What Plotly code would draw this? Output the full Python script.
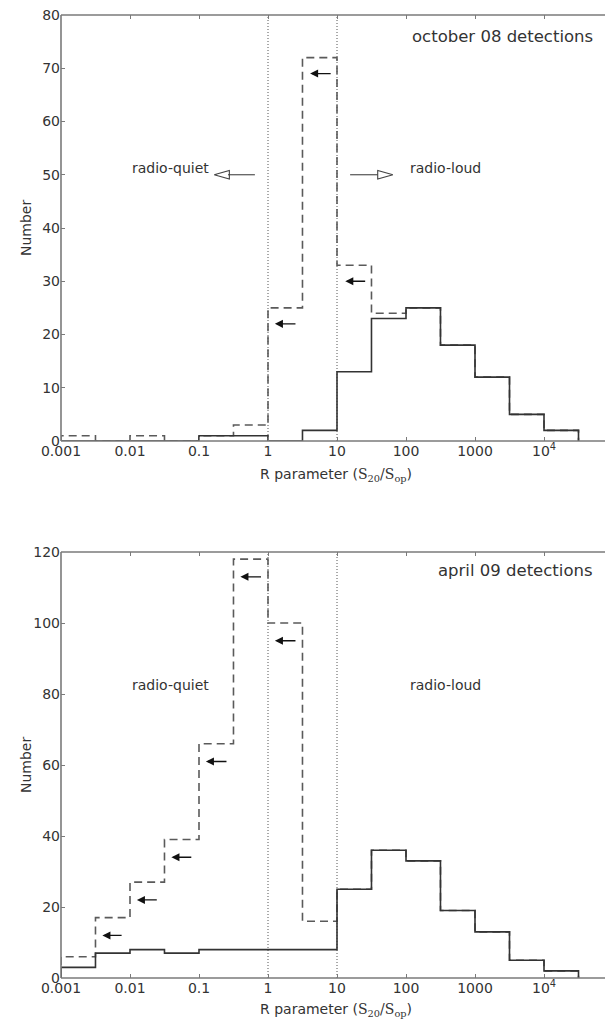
import plotly.graph_objects as go

# ---------------- data ----------------
bin_edges = [0.001, 0.00316, 0.01, 0.0316, 0.1, 0.316, 1, 3.16, 10, 31.6, 100, 316, 1000, 3162, 10000, 31623]

oct_detect = [0, 0, 0, 0, 1, 1, 0, 2, 13, 23, 25, 18, 12, 5, 2]
oct_total = [1, 0, 1, 0, 1, 3, 25, 72, 33, 24, 25, 18, 12, 5, 2]

apr_detect = [3, 7, 8, 7, 8, 8, 8, 8, 25, 36, 33, 19, 13, 5, 2]
apr_total = [6, 17, 27, 39, 66, 118, 100, 16, 25, 36, 33, 19, 13, 5, 2]

# upper-limit arrows (log10 R of head / tail, y value)
oct_arrow_head = [0.10, 0.61, 1.12]
oct_arrow_tail = [0.42, 0.93, 1.43]
oct_arrow_y = [22, 69, 30]

apr_arrow_head = [-2.40, -1.90, -1.40, -0.90, -0.40, 0.10]
apr_arrow_tail = [-2.10, -1.59, -1.09, -0.58, -0.08, 0.42]
apr_arrow_y = [12, 22, 34, 61, 113, 95]

xtick_vals = [0.001, 0.01, 0.1, 1, 10, 100, 1000, 10000]
xtick_text = ["0.001", "0.01", "0.1", "1", "10", "100", "1000", "10<sup>4</sup>"]
oct_yticks = [0, 10, 20, 30, 40, 50, 60, 70, 80]
apr_yticks = [0, 20, 40, 60, 80, 100, 120]
divider_R = [1, 10]

# --------------- helpers ---------------
def step_xy(edges, vals):
    xs = [edges[0]] + list(edges[:-1]) + [edges[-1], edges[-1]]
    ys = [0] + list(vals) + [vals[-1], 0]
    return xs, ys

FONT = "DejaVu Sans, Liberation Sans, sans-serif"
AXC = "#7a7a7a"
W = 640          # figure wider than the 605 px window: right part is cropped, as in the reference
L = 61
PW = W - L
DEC = 69.0       # pixels per decade
TOP_DOM = [(978 - 441) / 963, 1.0]
BOT_DOM = [0, (978 - 552) / 963]

fig = go.Figure()

panels = [
    ("x", "y", oct_detect, oct_total, 80, oct_arrow_head, oct_arrow_tail, oct_arrow_y),
    ("x2", "y2", apr_detect, apr_total, 120, apr_arrow_head, apr_arrow_tail, apr_arrow_y),
]

for xa, ya, det, tot, ymax, ah, at, ay in panels:
    for d in divider_R:
        fig.add_trace(go.Scatter(x=[d, d], y=[0, ymax], mode="lines", xaxis=xa, yaxis=ya,
                                 line=dict(color="#555", width=1, dash="1px,2px"),
                                 showlegend=False, hoverinfo="skip"))
    xs, ys = step_xy(bin_edges, tot)
    fig.add_trace(go.Scatter(x=xs, y=ys, mode="lines", line_shape="hv", xaxis=xa, yaxis=ya,
                             line=dict(color="#5a5a5a", width=1.6, dash="8px,5px"),
                             showlegend=False, hoverinfo="skip"))
    xs, ys = step_xy(bin_edges, det)
    fig.add_trace(go.Scatter(x=xs, y=ys, mode="lines", line_shape="hv", xaxis=xa, yaxis=ya,
                             line=dict(color="#333", width=1.6),
                             showlegend=False, hoverinfo="skip"))
    for h, t, yv in zip(ah, at, ay):
        fig.add_annotation(x=h, y=yv, ax=t, ay=yv, xref=xa, yref=ya, axref=xa, ayref=ya,
                           text="", showarrow=True, arrowhead=2, arrowsize=1.15,
                           arrowwidth=1.4, arrowcolor="#111")

# hollow arrows in top panel (radio-quiet / radio-loud)
rq_line_logx = [-0.58, -0.19]
rq_head_logx = [-0.78, -0.56, -0.56, -0.78]
rl_line_logx = [1.19, 1.59]
rl_head_logx = [1.81, 1.59, 1.59, 1.81]
head_y = [50, 50.8, 49.2, 50]
for lx in (rq_line_logx, rl_line_logx):
    fig.add_trace(go.Scatter(x=[10 ** v for v in lx], y=[50, 50], mode="lines", xaxis="x", yaxis="y",
                             line=dict(color="#444", width=1.1), showlegend=False, hoverinfo="skip"))
for hx in (rq_head_logx, rl_head_logx):
    fig.add_trace(go.Scatter(x=[10 ** v for v in hx], y=head_y, mode="lines", xaxis="x", yaxis="y",
                             line=dict(color="#444", width=1.1), showlegend=False, hoverinfo="skip"))

txt = dict(family=FONT, size=14, color="#333")
fig.add_annotation(x=-1.41, y=51.3, xref="x", yref="y", text="radio-quiet", showarrow=False, font=txt)
fig.add_annotation(x=2.575, y=51.3, xref="x", yref="y", text="radio-loud", showarrow=False, font=txt)
fig.add_annotation(x=-1.41, y=82.5, xref="x2", yref="y2", text="radio-quiet", showarrow=False, font=txt)
fig.add_annotation(x=2.575, y=82.5, xref="x2", yref="y2", text="radio-loud", showarrow=False, font=txt)

ttl = dict(family=FONT, size=16.5, color="#333")
fig.add_annotation(x=4.745, y=75.9, xref="x", yref="y", text="october 08 detections",
                   showarrow=False, xanchor="right", font=ttl)
fig.add_annotation(x=4.745, y=114.7, xref="x2", yref="y2", text="april 09 detections",
                   showarrow=False, xanchor="right", font=ttl)

xlabel = "R parameter (<span style='font-family:DejaVu Serif, Liberation Serif, serif'>S<sub>20</sub>/S<sub>op</sub></span>)"
lab = dict(family=FONT, size=14, color="#333")
for py in (475, 1010):
    fig.add_annotation(x=(336 - L) / PW, y=(978 - py) / 963, xref="paper", yref="paper", text=xlabel,
                       showarrow=False, font=lab, xanchor="center", yanchor="middle")
for py in (228, 765):
    fig.add_annotation(x=(26 - L) / PW, y=(978 - py) / 963, xref="paper", yref="paper",
                       text="Number", textangle=-90, showarrow=False, font=lab,
                       xanchor="center", yanchor="middle")

# frame: left, top, bottom spines only (right side is outside the window)
spine = dict(color=AXC, width=1.6)
for dom in (TOP_DOM, BOT_DOM):
    fig.add_shape(type="line", xref="paper", yref="paper", x0=0, x1=0, y0=dom[0], y1=dom[1], line=spine)
    fig.add_shape(type="line", xref="paper", yref="paper", x0=0, x1=1, y0=dom[0], y1=dom[0], line=spine)
    fig.add_shape(type="line", xref="paper", yref="paper", x0=0, x1=1, y0=dom[1], y1=dom[1], line=spine)

xcommon = dict(type="log", range=[-3, -3 + PW / DEC], tickmode="array", tickvals=xtick_vals, ticktext=xtick_text,
               showline=False, mirror="ticks", ticks="inside",
               ticklen=4, tickcolor=AXC, tickwidth=1, showgrid=False, zeroline=False,
               tickfont=dict(family=FONT, size=14, color="#333"), fixedrange=True)
ycommon = dict(showline=False, mirror=False, ticks="inside",
               ticklen=4, tickcolor=AXC, tickwidth=1, showgrid=False, zeroline=False,
               tickfont=dict(family=FONT, size=14, color="#333"), fixedrange=True)

fig.update_layout(
    width=W, height=1019,
    margin=dict(l=L, r=0, t=15, b=41),
    paper_bgcolor="white", plot_bgcolor="rgba(0,0,0,0)",
    showlegend=False, hovermode=False, dragmode=False,
    xaxis=dict(anchor="y", domain=[0, 1], **xcommon),
    yaxis=dict(anchor="x", domain=TOP_DOM, range=[0, 80], tickvals=oct_yticks, **ycommon),
    xaxis2=dict(anchor="y2", domain=[0, 1], **xcommon),
    yaxis2=dict(anchor="x2", domain=BOT_DOM, range=[0, 120], tickvals=apr_yticks, **ycommon),
)

fig.write_html("out.html", config={"displayModeBar": False, "staticPlot": True},
               post_script="document.body.style.margin='0px';document.body.style.overflow='hidden';"
                           "document.documentElement.style.overflow='hidden';")
